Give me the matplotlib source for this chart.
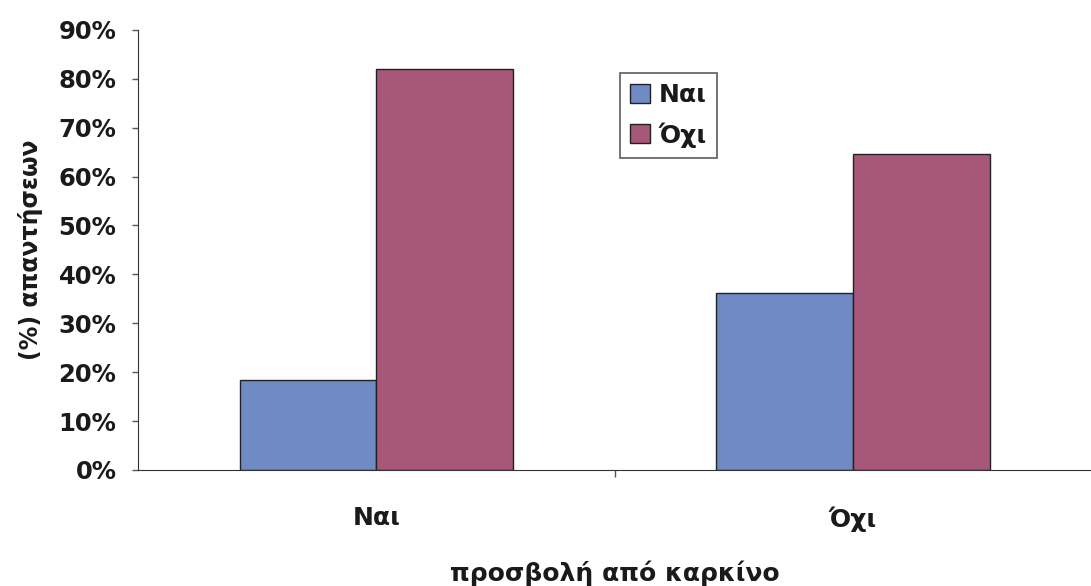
import matplotlib
matplotlib.use("Agg")
import matplotlib.pyplot as plt
from matplotlib.ticker import FuncFormatter, MultipleLocator
import numpy as np

# Responses by cancer history
categories = ["Ναι", "Όχι"]
series_names = ["Ναι", "Όχι"]
yes_values = [18.4, 36.2]
no_values = [82.1, 64.6]

colors = ["#6f8ac4", "#a6577a"]

plt.rcParams["font.family"] = ["DejaVu Sans"]
plt.rcParams["font.weight"] = "bold"

fig = plt.figure(figsize=(10.91, 5.86), dpi=100)
ax = fig.add_axes([0.1265, 0.198, 0.8735, 0.751])

x = np.arange(len(categories))
w = 0.287
ax.bar(x - w / 2, yes_values, w, color=colors[0], edgecolor="#222222",
       linewidth=1.0, label=series_names[0])
ax.bar(x + w / 2, no_values, w, color=colors[1], edgecolor="#222222",
       linewidth=1.0, label=series_names[1])

ax.set_xlim(-0.5, 1.5)
ax.set_ylim(0, 90)
ax.yaxis.set_major_locator(MultipleLocator(10))
ax.yaxis.set_major_formatter(FuncFormatter(lambda v, _: f"{v:.0f}%"))
ax.set_xticks(x)
ax.set_xticklabels(categories, fontsize=18, fontweight="bold", color="#1a1a1a")
ax.set_xticks([0.5], minor=True)
ax.tick_params(axis="x", which="major", length=0, pad=26)
ax.tick_params(axis="x", which="minor", length=5, width=1, color="#555555")
ax.tick_params(axis="y", length=4, width=1, color="#555555", labelsize=17.5,
               pad=11.5, labelcolor="#1a1a1a")
for lbl in ax.get_yticklabels():
    lbl.set_fontweight("bold")

for side in ("top", "right"):
    ax.spines[side].set_visible(False)
ax.spines["left"].set_color("#333333")
ax.spines["bottom"].set_color("#333333")

ax.set_ylabel("(%) απαντήσεων", fontsize=17, fontweight="bold", color="#1a1a1a")
ax.yaxis.set_label_coords(-0.1, 0.5)
ax.set_xlabel("προσβολή από καρκίνο", fontsize=18, fontweight="bold", color="#1a1a1a")
ax.xaxis.set_label_coords(0.5, -0.205)

leg = ax.legend(loc="upper left", bbox_to_anchor=(0.5055, 0.902), fontsize=18,
                frameon=True, fancybox=False, edgecolor="#333333",
                handlelength=0.8, handleheight=0.8, handletextpad=0.35,
                borderpad=0.4, labelspacing=0.6, borderaxespad=0)
leg.get_frame().set_linewidth(1.2)
for t in leg.get_texts():
    t.set_fontweight("bold")
    t.set_color("#1a1a1a")
for h in leg.legend_handles:
    h.set_edgecolor("#222222")

fig.savefig("out.png", dpi=100)
